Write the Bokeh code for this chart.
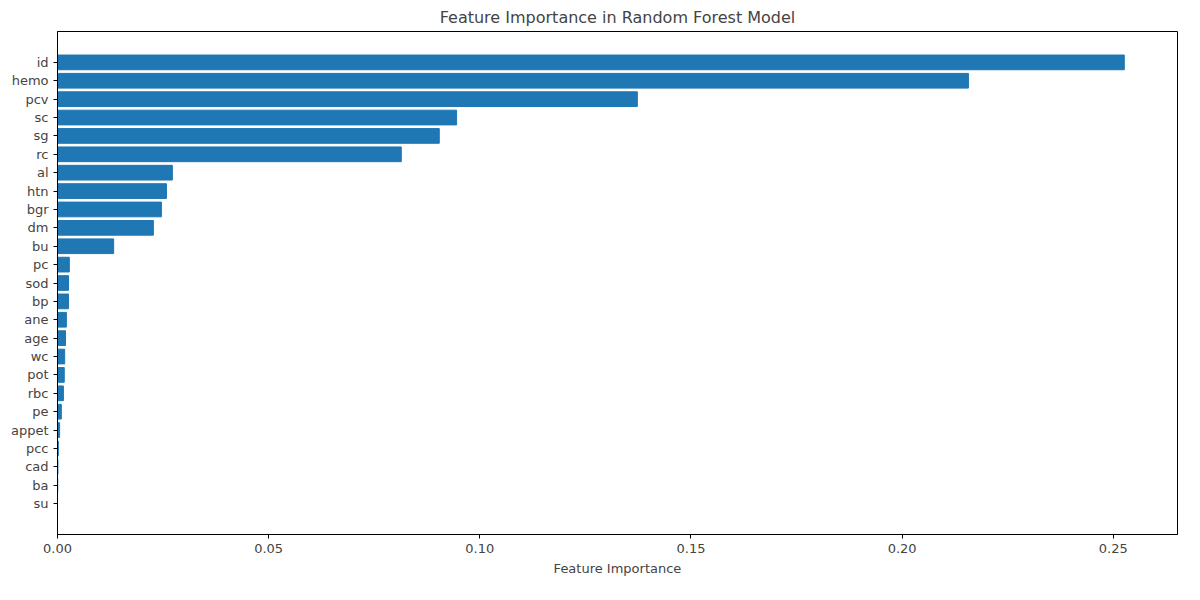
from bokeh.plotting import figure
from bokeh.embed import file_html
from bokeh.resources import INLINE
from bokeh.models import FixedTicker, Range1d

features = ["id","hemo","pcv","sc","sg","rc","al","htn","bgr","dm","bu","pc","sod","bp","ane","age","wc","pot","rbc","pe","appet","pcc","cad","ba","su"]
importance = [0.2526,0.2157,0.1373,0.0945,0.0904,0.0814,0.0272,0.0258,0.0246,0.0227,0.0133,0.0028,0.0026,0.0026,0.0021,0.0019,0.0017,0.0016,0.0014,0.0009,0.0005,0.0002,0.0001,0.00005,0.0]

n = len(features)
ypos = [n - 1 - i for i in range(n)]

p = figure(width=1184, height=584, output_backend="svg", toolbar_location=None,
           x_range=Range1d(0, 0.2652), y_range=Range1d(-1.68, n - 1 + 1.68),
           min_border_left=57, min_border_right=7, min_border_top=29, min_border_bottom=50,
           title="Feature Importance in Random Forest Model")
p.hbar(y=ypos, right=importance, left=0, height=0.8, color="#1f77b4")
p.title.align = "center"
p.title.text_font = "DejaVu Sans"
p.title.text_font_size = "16px"
p.title.text_font_style = "normal"
p.grid.visible = False
p.xaxis.axis_label = "Feature Importance"
p.xaxis.axis_label_text_font_style = "normal"
p.xaxis.axis_label_text_font = "DejaVu Sans"
p.xaxis.axis_label_text_font_size = "13px"
p.xaxis.ticker = FixedTicker(ticks=[0, 0.05, 0.1, 0.15, 0.2, 0.25])
p.xaxis.major_label_overrides = {0: "0.00", 0.05: "0.05", 0.1: "0.10", 0.15: "0.15", 0.2: "0.20", 0.25: "0.25"}
p.yaxis.ticker = FixedTicker(ticks=ypos)
p.yaxis.major_label_overrides = {y: f for y, f in zip(ypos, features)}
for ax in (p.xaxis, p.yaxis):
    ax.major_label_text_font = "DejaVu Sans"
    ax.major_label_text_font_size = "13px"
    ax.minor_tick_line_color = None
    ax.axis_line_color = "black"
    ax.major_tick_line_color = "black"
    ax.major_tick_out = 4
    ax.major_tick_in = 0
p.outline_line_color = "black"
p.outline_line_alpha = 1

open("out.html", "w").write(file_html(p, INLINE))
